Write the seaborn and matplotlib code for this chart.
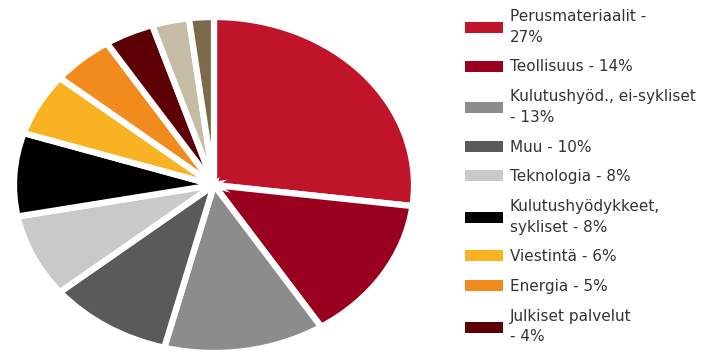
import matplotlib
matplotlib.use("Agg")
import matplotlib.pyplot as plt
import seaborn as sns

sns.set_theme(style="white")
plt.rcParams['font.family'] = ['DejaVu Sans']

labels = ["Perusmateriaalit -\n27%", "Teollisuus - 14%", "Kulutushyöd., ei-sykliset\n- 13%",
          "Muu - 10%", "Teknologia - 8%", "Kulutushyödykkeet,\nsykliset - 8%",
          "Viestintä - 6%", "Energia - 5%", "Julkiset palvelut\n- 4%", "", ""]
values = [27, 14, 13, 10, 8, 8, 6, 5, 4, 3, 2]
colors = ["#C0142A", "#99001E", "#8C8C8C", "#5A5A5A", "#C9C9C9", "#000000",
          "#F8B222", "#F28B1E", "#5C0005", "#C4BCA4", "#7B6B4A"]
n_legend = 9

fig = plt.figure(figsize=(7.01, 3.54), dpi=100)
ax = fig.add_axes([14/701, 1/354, 400/701, 336/354])
wedges, _ = ax.pie(values, colors=colors, startangle=90, counterclock=False,
                   radius=1.0, wedgeprops=dict(edgecolor="white", linewidth=4.5))
ax.set_aspect("auto")
ax.set_xlim(-1.0, 1.0)
ax.set_ylim(-1.0, 1.0)
ax.axis("off")

leg = fig.legend(wedges[:n_legend], labels[:n_legend], loc="upper left",
                 bbox_to_anchor=(465/701, 1 - 9/354), frameon=False, fontsize=11,
                 handlelength=2.48, handleheight=0.72, handletextpad=0.45,
                 labelspacing=0.96, borderpad=0, borderaxespad=0, labelcolor="#333333")
for t in leg.get_texts():
    t.set_linespacing(1.48)
for h in leg.legend_handles:
    h.set_edgecolor("none")

fig.savefig("out.png", dpi=100)
